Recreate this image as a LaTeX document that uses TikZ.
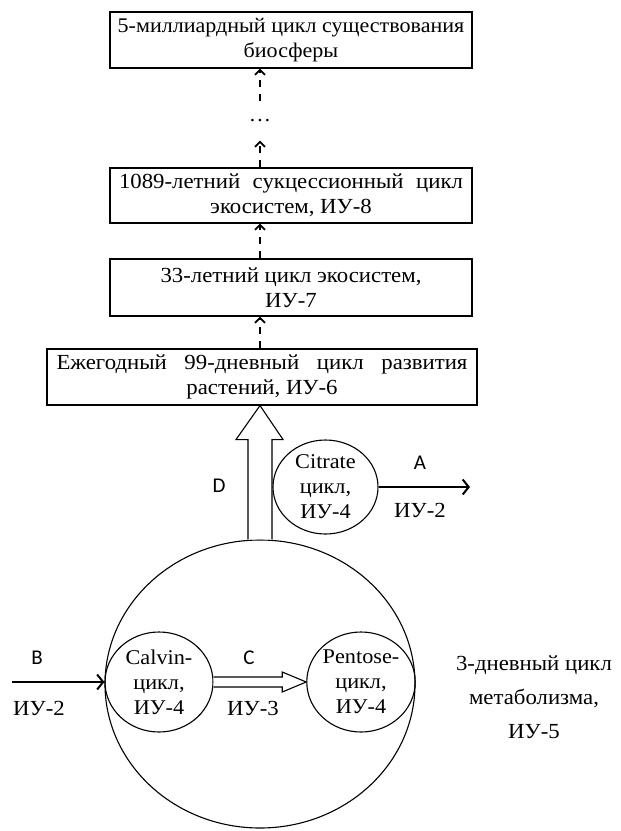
\documentclass[tikz,border=0pt]{standalone}
\usepackage{fontspec}
\setmainfont[FakeStretch=1.06]{Liberation Serif}
\newfontfamily\lblfont{Carlito}
\usetikzlibrary{arrows.meta,shapes.geometric,calc}
\newcommand\jline[2]{\hbox to #1{#2}}
\begin{document}
\begin{tikzpicture}[x=1pt,y=-1pt, line width=1.1pt,
  box/.style={draw, minimum width=362pt, minimum height=56pt, inner sep=0pt, align=center, font=\fontsize{21.5}{25}\selectfont},
  cyc/.style={draw, ellipse, inner sep=0pt, align=center, font=\fontsize{21}{25}\selectfont},
  lbl/.style={font=\lblfont\fontsize{21}{24}\selectfont},
  txt/.style={font=\fontsize{21.5}{25}\selectfont, align=center},
  dasharrow/.style={-{Straight Barb[length=5pt,width=10pt,line width=1.8pt]}, dash pattern=on 7pt off 7pt, line width=1.8pt},
  thinarrow/.style={-{Straight Barb[length=6pt,width=15pt]}, line width=2pt},
  hollow/.style={draw, line width=1.1pt, line join=miter, fill=white},
]
\useasboundingbox (0,0) rectangle (621,831);

% boxes
\node[box, font=\fontsize{20.8}{25}\selectfont] (b1) at (291,40) {5-миллиардный цикл существования\\биосферы};
\node[box, minimum height=55pt] (b2) at (291,195.5) {\jline{344pt}{1089-летний\hfill сукцессионный\hfill цикл}\\экосистем, ИУ-8};
\node[box, minimum height=57pt] (b3) at (291,287.5) {33-летний цикл экосистем,\\ИУ-7};
\node[box, minimum width=430pt] (b4) at (262,377) {\jline{411pt}{Ежегодный\hfill 99-дневный\hfill цикл\hfill развития}\\растений, ИУ-6};

% dots
\node[inner sep=0pt, minimum height=38pt, font=\fontsize{21}{25}\selectfont] (dots) at (260,121) {…};

% dashed arrows
\draw[dasharrow] (dots.north) -- (b1.south -| dots.center);
\draw[dasharrow] (b2.north -| dots.center) -- (dots.south);
\draw[dasharrow] (b3.north -| dots.center) -- (b2.south -| dots.center);
\draw[dasharrow] (b4.north -| dots.center) -- (b3.south -| dots.center);

% big ellipse and cycles
\node[cyc, minimum width=310pt, minimum height=288pt] (big) at (260,684) {};
\node[cyc, minimum width=105pt, minimum height=94pt] (cit) at (325.5,487) {Citrate\\цикл,\\ИУ-4};
\node[cyc, minimum width=108pt, minimum height=100pt] (cal) at (159,682) {Calvin-\\цикл,\\ИУ-4};
\node[cyc, minimum width=108pt, minimum height=100pt] (pen) at (361,682) {Pentose-\\цикл,\\ИУ-4};

% hollow arrow D
\coordinate (dbase) at ($(b4.south -| big.north)+(0,34)$);
\draw[hollow] ($(big.north)+(-12,0)$) -- ($(dbase)+(-12,0)$) -- ($(dbase)+(-24,0)$)
  -- (b4.south -| big.north) -- ($(dbase)+(23,0)$) -- ($(dbase)+(12,0)$) -- ($(big.north)+(12,0)$);

% hollow arrow C
\coordinate (cbase) at ($(pen.west)+(-24,0)$);
\draw[hollow] ($(cal.east)+(0,-5)$) -- ($(cbase)+(0,-5)$) -- ($(cbase)+(0,-10)$)
  -- (pen.west) -- ($(cbase)+(0,10)$) -- ($(cbase)+(0,5)$) -- ($(cal.east)+(0,5)$);

% thin arrows
\coordinate (aend) at (470,487);
\draw[thinarrow] (cit.east) -- (aend);
\coordinate (bstart) at (12,682);
\draw[thinarrow] (bstart) -- (cal.west);

% labels
\node[lbl] (la) at (420,463) {A};
\node[txt] (lai) at (420,510) {ИУ-2};
\node[lbl] (ld) at (219,486) {D};
\node[lbl] (lb) at (37,658) {B};
\node[txt] (lbi) at (39,708) {ИУ-2};
\node[lbl] (lc) at (249,658) {C};
\node[txt] (lci) at (253,708) {ИУ-3};
\node[txt, font=\fontsize{21.5}{34}\selectfont] (meta) at (534,697) {3-дневный цикл\\метаболизма,\\ИУ-5};
\end{tikzpicture}
\end{document}
